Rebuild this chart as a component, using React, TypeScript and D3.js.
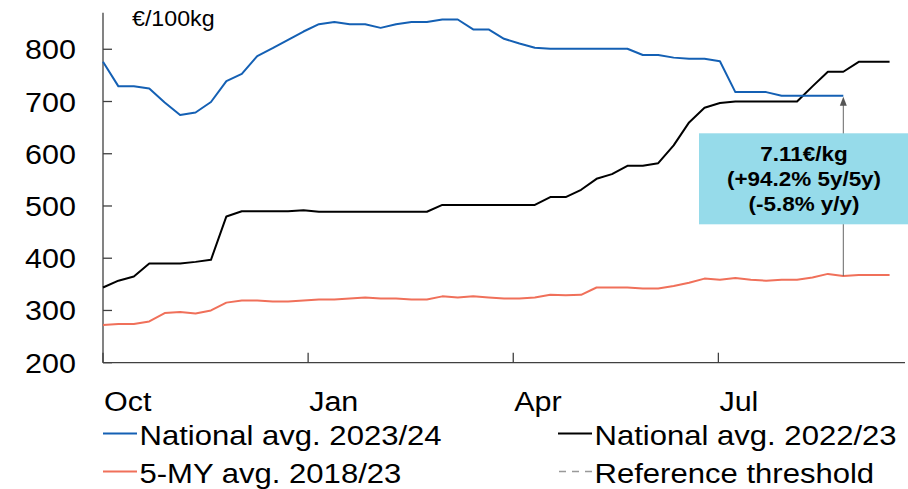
import React, { useRef, useEffect } from 'react';
import * as d3 from 'd3';

// weekly prices, €/100kg, marketing year starting in October
const national2324 = [
  776, 729, 729, 725, 698, 674, 679, 699, 739, 753,
  787, 802, 818, 834, 848, 852, 848, 848, 841, 848,
  852, 852, 857, 857, 838, 838, 820, 811, 803, 801,
  801, 801, 801, 801, 801, 789, 789, 784, 782, 782,
  777, 718, 718, 718, 711, 711, 711, 711, 711,
];
const national2223 = [
  344, 357, 365, 390, 390, 390, 393, 397, 480, 490,
  490, 490, 490, 492, 489, 489, 489, 489, 489, 489,
  489, 489, 502, 502, 502, 502, 502, 502, 502, 517,
  517, 531, 552, 561, 577, 577, 582, 616, 660, 688,
  697, 700, 700, 700, 700, 700, 729, 757, 757, 776,
  776, 776,
];
const fiveYearAvg = [
  272, 274, 274, 279, 295, 297, 294, 300, 315, 319,
  319, 317, 317, 319, 321, 321, 323, 325, 323, 323,
  321, 321, 327, 325, 327, 325, 323, 323, 325, 330,
  329, 330, 344, 344, 344, 342, 342, 347, 353, 361,
  359, 362, 359, 357, 359, 359, 363, 370, 366, 368,
  368, 368,
];

const monthLabels = ['Oct', 'Jan', 'Apr', 'Jul'];
const monthWeeks = [0, 13.3, 26.6, 39.9];
const yTicks = [200, 300, 400, 500, 600, 700, 800];
const noteLines = ['7.11€/kg', '(+94.2% 5y/5y)', '(-5.8% y/y)'];

const FONT = '"Liberation Sans", Arial, sans-serif';

const App: React.FC = () => {
  const ref = useRef<SVGSVGElement | null>(null);

  useEffect(() => {
    if (!ref.current) return;
    const svg = d3.select(ref.current);
    svg.selectAll('*').remove();

    const x = d3.scaleLinear().domain([0, 52]).range([103, 905]);
    const y = d3.scaleLinear().domain([200, 870]).range([362.7, 12.7]);

    // text is slightly wider than the font, like the stretched original
    const label = (
      tx: number, ty: number, str: string, size: number,
      anchor = 'start', weight = 'normal', sx = 1.09
    ) => svg.append('text')
      .attr('transform', `translate(${tx},${ty}) scale(${sx},1)`)
      .attr('font-family', FONT)
      .attr('font-size', size)
      .attr('font-weight', weight)
      .attr('text-anchor', anchor)
      .attr('fill', '#000')
      .text(str);

    const axisColor = '#404040';

    // y axis
    svg.append('line')
      .attr('x1', x(0)).attr('x2', x(0))
      .attr('y1', y(870)).attr('y2', y(200))
      .attr('stroke', axisColor).attr('stroke-width', 1.3);
    yTicks.forEach(t => {
      svg.append('line')
        .attr('x1', x(0)).attr('x2', x(0) + 9)
        .attr('y1', y(t)).attr('y2', y(t))
        .attr('stroke', axisColor).attr('stroke-width', 1.3);
      label(76, y(t) + 10, String(t), 28, 'end');
    });

    // x axis
    svg.append('line')
      .attr('x1', x(0)).attr('x2', x(52))
      .attr('y1', y(200)).attr('y2', y(200))
      .attr('stroke', axisColor).attr('stroke-width', 1.3);
    monthWeeks.forEach((w, i) => {
      svg.append('line')
        .attr('x1', x(w)).attr('x2', x(w))
        .attr('y1', y(200)).attr('y2', y(200) - 10)
        .attr('stroke', axisColor).attr('stroke-width', 1.3);
      label(x(w) + 1, 410.5, monthLabels[i], 28);
    });

    label(132, 26, '€/100kg', 21.5, 'start', 'normal', 1.08);

    // lines
    const line = d3.line<number>()
      .x((_, i) => x(i))
      .y(d => y(d));

    const series = [
      { data: fiveYearAvg, color: '#F0705A' },
      { data: national2223, color: '#000000' },
      { data: national2324, color: '#1460B4' },
    ];
    series.forEach(s => {
      svg.append('path')
        .datum(s.data)
        .attr('d', line)
        .attr('fill', 'none')
        .attr('stroke', s.color)
        .attr('stroke-width', 2)
        .attr('stroke-linejoin', 'round');
    });

    // arrow from 5-year average up to the current price
    const lastWeek = national2324.length - 1;
    const ax = x(lastWeek);
    const yTop = y(national2324[lastWeek]);
    svg.append('line')
      .attr('x1', ax).attr('x2', ax)
      .attr('y1', y(fiveYearAvg[lastWeek])).attr('y2', yTop + 8)
      .attr('stroke', '#666').attr('stroke-width', 1);
    svg.append('path')
      .attr('d', `M${ax},${yTop + 1} L${ax - 3.5},${yTop + 10} L${ax + 3.5},${yTop + 10} Z`)
      .attr('fill', '#555');

    // annotation box
    svg.append('rect')
      .attr('x', 699).attr('y', 133.3)
      .attr('width', 209).attr('height', 91)
      .attr('fill', '#96DBEA');
    noteLines.forEach((t, i) => {
      label(804, 161 + i * 25, t, 21, 'middle', 'bold', 1.07);
    });

    // legend
    const legendItems = [
      { name: 'National avg. 2023/24', color: '#1460B4', dash: null, lx: 103, ly: 433.5 },
      { name: 'National avg. 2022/23', color: '#000000', dash: null, lx: 558, ly: 433.5 },
      { name: '5-MY avg. 2018/23', color: '#F0705A', dash: null, lx: 103, ly: 471.5 },
      { name: 'Reference threshold', color: '#999999', dash: '7,6', lx: 558, ly: 471.5 },
    ];
    legendItems.forEach(it => {
      svg.append('line')
        .attr('x1', it.lx + (it.dash ? 1 : 0)).attr('x2', it.lx + 34)
        .attr('y1', it.ly).attr('y2', it.ly)
        .attr('stroke', it.color)
        .attr('stroke-width', it.dash ? 1.3 : 2)
        .attr('stroke-dasharray', it.dash);
      label(it.lx + 36.5, it.ly + 11, it.name, 28.5);
    });
  }, []);

  return (
    <div style={{ position: 'fixed', left: 0, top: 0 }}>
      <svg ref={ref} width={908} height={489} style={{ display: 'block', background: '#fff' }} />
    </div>
  );
};

export default App;
